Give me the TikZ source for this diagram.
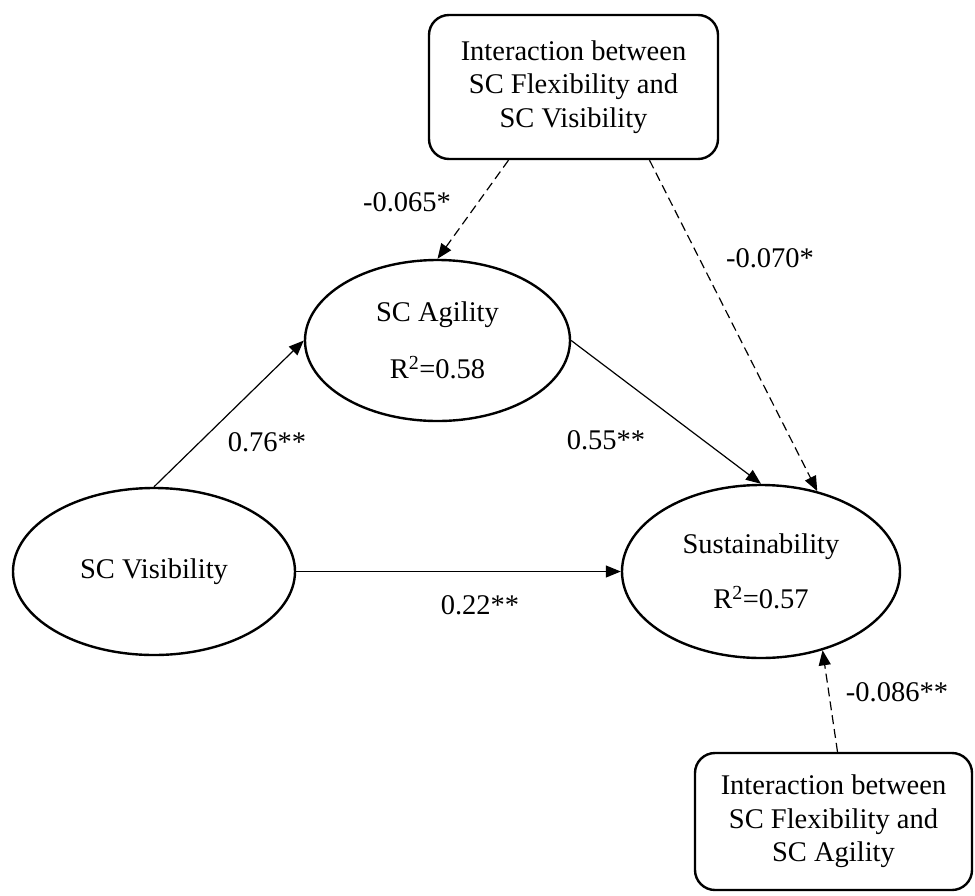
\documentclass[tikz,border=0pt]{standalone}
\usepackage{fontspec}
\setmainfont{Liberation Serif}
\usetikzlibrary{shapes.geometric,arrows.meta}
\begin{document}
\begin{tikzpicture}[x=1pt,y=-1pt,
  font=\fontsize{28.5}{33.5}\selectfont,
  latent/.style={ellipse,draw,line width=2.4pt,inner sep=0pt,align=center},
  inter/.style={rectangle,rounded corners=20pt,draw,line width=2.4pt,align=center,inner sep=0pt},
  arr/.style={line width=1.2pt,-{Triangle[length=15pt,width=12pt]}},
  modarr/.style={arr,dash pattern=on 9pt off 5pt},
  coef/.style={inner sep=0pt}]
\useasboundingbox (0,0) rectangle (975,895);
\node[inter, minimum width=289pt, minimum height=144pt] (top) at (573.5,87) {Interaction between\\SC Flexibility and\\SC Visibility};
\node[inter, minimum width=277pt, minimum height=137pt] (bot) at (833.5,821.5) {Interaction between\\SC Flexibility and\\SC Agility};
\node[latent, minimum width=265pt, minimum height=161pt] (agi) at (437.5,340.5) {SC Agility\\[23pt]R\textsuperscript{2}=0.58};
\node[latent, minimum width=282pt, minimum height=167pt] (vis) at (154,571.5) {SC Visibility};
\node[latent, minimum width=278pt, minimum height=173pt] (sus) at (761,571.5) {Sustainability\\[22pt]R\textsuperscript{2}=0.57};
\draw[arr] (vis.north) -- (agi.west);
\draw[arr] (agi.east) -- (sus.north);
\draw[arr] (vis.east) -- (sus.west);
\draw[modarr] ([xshift=-65pt]top.south) -- (agi.north);
\draw[modarr] ([xshift=76pt]top.south) -- (sus.55);
\draw[modarr] ([xshift=4pt]bot.north) -- (sus.-52);
\node[coef] (c1) at (407,202) {-0.065*};
\node[coef] (c2) at (770,258) {-0.070*};
\node[coef] (c3) at (267,442) {0.76**};
\node[coef] (c4) at (606,440) {0.55**};
\node[coef] (c5) at (480,605) {0.22**};
\node[coef] (c6) at (897,692) {-0.086**};
\end{tikzpicture}
\end{document}
